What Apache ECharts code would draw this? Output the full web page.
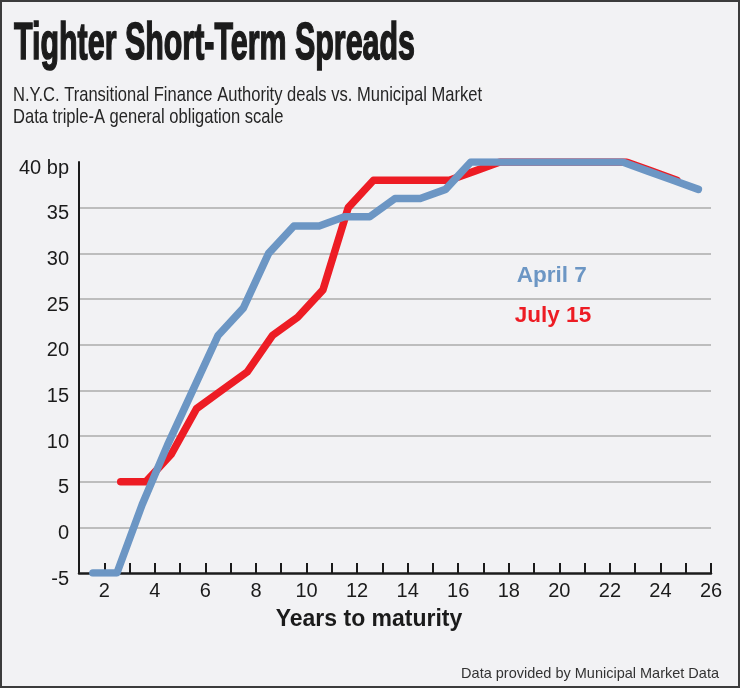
<!DOCTYPE html>
<html>
<head>
<meta charset="utf-8">
<script src="https://cdn.jsdelivr.net/npm/echarts@6/dist/echarts.min.js"></script>
<style>
html,body{margin:0;padding:0;background:#ffffff;}
#chart{width:740px;height:688px;}
</style>
</head>
<body>
<div id="chart"></div>
<script>
// ---- data ----
const aprilYears  = [1.55, 2.5, 3.5, 4.5, 5.5, 6.5, 7.5, 8.5, 9.5, 10.5, 11.5, 12.5, 13.5, 14.5, 15.5, 16.5, 17.5, 18.5, 19.5, 20.5, 21.5, 22.5, 23.5, 24.5, 25.5];
const aprilSpread = [-5, -5, 2.5, 9, 15, 21, 24, 30, 33, 33, 34, 34, 36, 36, 37, 40, 40, 40, 40, 40, 40, 40, 39, 38, 37];
const julyYears   = [2.65, 3.65, 4.65, 5.65, 6.65, 7.65, 8.65, 9.65, 10.65, 11.65, 12.65, 13.65, 14.65, 15.65, 16.65, 17.65, 18.65, 19.65, 20.65, 21.65, 22.65, 23.65, 24.65];
const julySpread  = [5, 5, 8, 13, 15, 17, 21, 23, 26, 35, 38, 38, 38, 38, 39, 40, 40, 40, 40, 40, 40, 39, 38];
const xTickLabels = [2, 4, 6, 8, 10, 12, 14, 16, 18, 20, 22, 24, 26];
const yTickLabels = [-5, 0, 5, 10, 15, 20, 25, 30, 35, 40];

const titleText = 'Tighter Short-Term Spreads';
const subLine1 = 'N.Y.C. Transitional Finance Authority deals vs. Municipal Market';
const subLine2 = 'Data triple-A general obligation scale';
const xName = 'Years to maturity';
const sourceText = 'Data provided by Municipal Market Data';

const BLUE = '#6c96c4';
const RED = '#ed1c24';
const INK = '#1b1b1b';

function fitScale(text, font, target) {
  const ctx = document.createElement('canvas').getContext('2d');
  ctx.font = font;
  return target / ctx.measureText(text).width;
}
const titleFont = 'bold 52px "Liberation Sans", Arial, sans-serif';
const subFont = '21px "Liberation Sans", Arial, sans-serif';
const titleScale = fitScale(titleText, titleFont, 401);
const subScale = fitScale(subLine1, subFont, 469);

const chart = echarts.init(document.getElementById('chart'), null, {renderer: 'canvas'});
chart.setOption({
  animation: false,
  backgroundColor: '#f2f2f4',
  grid: {left: 79, right: 29, top: 162, bottom: 115, containLabel: false, outerBoundsMode: 'none'},
  xAxis: {
    type: 'value', min: 1, max: 26, interval: 1,
    axisLine: {show: true, onZero: false, lineStyle: {color: INK, width: 2.5}},
    axisTick: {show: true, inside: true, length: 10, lineStyle: {color: INK, width: 2}},
    splitLine: {show: false},
    axisLabel: {
      show: true, margin: 8, fontSize: 20, color: INK, fontFamily: '"Liberation Sans", Arial, sans-serif',
      showMinLabel: true, showMaxLabel: true,
      formatter: v => xTickLabels.indexOf(v) >= 0 ? String(v) : ''
    }
  },
  yAxis: {
    type: 'value', min: -5, max: 40, interval: 5,
    axisLine: {show: true, onZero: false, lineStyle: {color: INK, width: 2}},
    axisTick: {show: false},
    splitLine: {show: true, showMinLine: false, showMaxLine: false, lineStyle: {color: '#bdbdbd', width: 2}},
    axisLabel: {
      show: true, margin: 10, fontSize: 20, color: INK, fontFamily: '"Liberation Sans", Arial, sans-serif',
      verticalAlign: 'top', lineHeight: 12,
      showMinLabel: true, showMaxLabel: true,
      formatter: v => yTickLabels.indexOf(v) >= 0 ? (v === 40 ? '40 bp' : String(v)) : ''
    }
  },
  series: [
    {
      name: 'July 15', type: 'line', z: 2, showSymbol: false, symbol: 'none', silent: true,
      lineStyle: {color: RED, width: 7.5, cap: 'round', join: 'round'},
      data: julyYears.map((x, i) => [x, julySpread[i]])
    },
    {
      name: 'April 7', type: 'line', z: 3, showSymbol: false, symbol: 'none', silent: true,
      lineStyle: {color: BLUE, width: 7.5, cap: 'round', join: 'round'},
      data: aprilYears.map((x, i) => [x, aprilSpread[i]])
    }
  ],
  graphic: [
    {type: 'rect', z: 100, silent: true, shape: {x: 1, y: 1, width: 738, height: 686},
     style: {fill: 'none', stroke: '#3c3c3c', lineWidth: 2}},
    {type: 'text', x: 14, y: 45, scaleX: titleScale, silent: true,
     style: {text: titleText, font: titleFont, fill: INK, stroke: INK, lineWidth: 1.6,
             align: 'left', verticalAlign: 'middle', textAlign: 'left', textVerticalAlign: 'middle'}},
    {type: 'text', x: 13, y: 95, scaleX: subScale, silent: true,
     style: {text: subLine1, font: subFont, fill: '#262626',
             align: 'left', verticalAlign: 'middle', textAlign: 'left', textVerticalAlign: 'middle'}},
    {type: 'text', x: 13, y: 117, scaleX: subScale, silent: true,
     style: {text: subLine2, font: subFont, fill: '#262626',
             align: 'left', verticalAlign: 'middle', textAlign: 'left', textVerticalAlign: 'middle'}},
    {type: 'text', x: 551.7, y: 276, silent: true,
     style: {text: 'April 7', font: 'bold 22.5px "Liberation Sans", Arial, sans-serif', fill: BLUE,
             align: 'center', verticalAlign: 'middle', textAlign: 'center', textVerticalAlign: 'middle'}},
    {type: 'text', x: 553, y: 315.5, silent: true,
     style: {text: 'July 15', font: 'bold 22.5px "Liberation Sans", Arial, sans-serif', fill: RED,
             align: 'center', verticalAlign: 'middle', textAlign: 'center', textVerticalAlign: 'middle'}},
    {type: 'text', x: 369, y: 620, silent: true,
     style: {text: xName, font: 'bold 23px "Liberation Sans", Arial, sans-serif', fill: INK,
             align: 'center', verticalAlign: 'middle', textAlign: 'center', textVerticalAlign: 'middle'}},
    {type: 'text', x: 719, y: 673.5, silent: true,
     style: {text: sourceText, font: '14.5px "Liberation Sans", Arial, sans-serif', fill: '#333333',
             align: 'right', verticalAlign: 'middle', textAlign: 'right', textVerticalAlign: 'middle'}}
  ]
});
</script>
</body>
</html>
